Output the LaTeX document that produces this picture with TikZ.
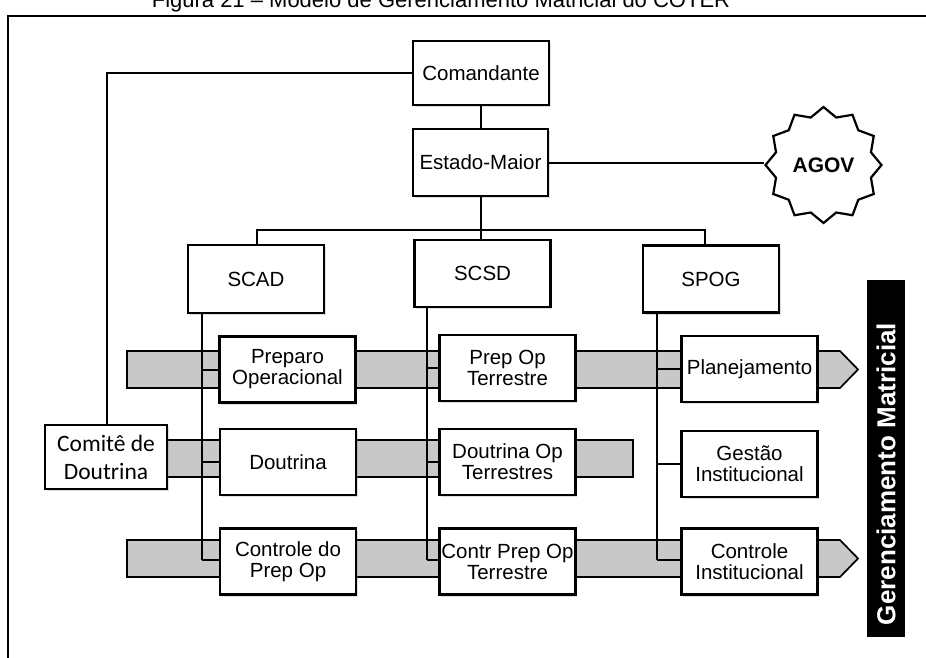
\documentclass[tikz,border=0pt]{standalone}
\usepackage{fontspec}
\setmainfont{Liberation Sans}
\newfontfamily\calibri{Carlito}
\usetikzlibrary{shapes.geometric,shadows}
\definecolor{bandgray}{HTML}{C8C8C8}

\begin{document}
\begin{tikzpicture}[x=1pt,y=-1pt,
  box/.style={draw, line width=2.9pt, fill=white, align=center,
    inner sep=0pt, font=\fontsize{20.5}{21}\selectfont,
    drop shadow={shadow xshift=1.5pt, shadow yshift=-2pt, opacity=0.25}},
  link/.style={line width=2pt},
  band/.style={draw, line width=1.7pt, fill=bandgray},
  colbox/.style={box, minimum width=136pt, minimum height=66pt}]

\useasboundingbox (0,0) rectangle (926,657);
\clip (0,0) rectangle (926,657);

% caption line and frame
\node[anchor=base, font=\fontsize{22}{26}\selectfont] (caption) at (441,7)
  {Figura 21 -- Modelo de Gerenciamento Matricial do COTER};
\draw[line width=2pt] (8,700) -- (8,16) -- (960,16);

% process bands (drawn first, boxes sit on top)
\draw[band] (127,351) -- (840,351) -- (858,369.5) -- (840,388) -- (127,388) -- cycle;
\draw[band] (633,477) -- (633,440) [rounded corners=6pt] -- (160,440) -- (160,477)
  [sharp corners] -- cycle;
\draw[band] (127,540) -- (840,540) -- (858,558.5) -- (840,577) -- (127,577) -- cycle;

% top of the hierarchy
\node[box, minimum width=136pt, minimum height=64pt] (cmd) at (481,73) {Comandante};
\node[box, minimum width=135pt, minimum height=67pt] (em) at (480.5,162.5) {Estado-Maior};
\node[star, star points=12, star point ratio=1.18, minimum size=116pt,
  draw, line width=2.2pt, fill=white, inner sep=0pt,
  font=\fontsize{21}{21}\selectfont\bfseries] (agov) at (823.5,165) {AGOV};

% sections
\node[box, minimum width=136pt, minimum height=68pt] (scad) at (256,279) {SCAD};
\node[box, minimum width=136pt, minimum height=67pt] (scsd) at (482.5,273.5) {SCSD};
\node[box, minimum width=136pt, minimum height=67pt] (spog) at (711,279) {SPOG};

% bus and links between the upper boxes
\coordinate (busL) at (257,230);
\coordinate (busR) at (705,230);
\draw[link] (cmd.south) -- (cmd.south |- em.north);
\draw[link] (em.east) -- (agov.west |- em.east);
\draw[link] (em.south) -- (em.south |- scsd.north);
\draw[link] (scad.north -| busL) |- (busR) -- (spog.north -| busR);
\draw[link] (cmd.west) -| (107,424);

% vertical spines of each section
\coordinate (s1) at (202,560);
\coordinate (s2) at (427,560);
\coordinate (s3) at (657,560);
\draw[link] (scad.south -| s1) -- (s1);
\draw[link] (scsd.south -| s2) -- (s2);
\draw[link] (spog.south -| s3) -- (s3);

% row 1
\node[colbox] (r1a) at (287.5,369.5) {Preparo\\Operacional};
\node[colbox] (r1b) at (507.5,368) {Prep Op\\Terrestre};
\node[colbox] (r1c) at (749.5,369) {Planejamento};
% row 2
\node[colbox] (r2a) at (288,462) {Doutrina};
\node[colbox] (r2b) at (507.5,462) {Doutrina Op\\Terrestres};
\node[colbox] (r2c) at (749.5,464) {Gestão\\Institucional};
% row 3
\node[colbox] (r3a) at (288,561.5) {Controle do\\Prep Op};
\node[colbox] (r3b) at (507.5,561.5) {Contr Prep Op\\Terrestre};
\node[colbox] (r3c) at (749.5,561.5) {Controle\\Institucional};

% branch links
\draw[link] (202,369.5) -- (r1a.west |- 0,369.5);
\draw[link] (427,368) -- (r1b.west |- 0,368);
\draw[link] (657,369) -- (r1c.west |- 0,369);
\draw[link] (202,462) -- (r2a.west |- 0,462);
\draw[link] (427,462) -- (r2b.west |- 0,462);
\draw[link] (657,464) -- (r2c.west |- 0,464);
\draw[link] (s1) -- (r3a.west |- s1);
\draw[link] (s2) -- (r3b.west |- s2);
\draw[link] (s3) -- (r3c.west |- s3);

% doctrine committee
\node[box, minimum width=122pt, minimum height=64pt,
  font=\calibri\fontsize{23.5}{28}\selectfont] (com) at (106,457) {Comitê de\\Doutrina};

% matrix management label
\node[fill=black, minimum width=38pt, minimum height=357pt, inner sep=0pt] (gm) at (886,458.5) {};
\node[rotate=90, text=white, font=\fontsize{26}{30}\selectfont\bfseries] (gmtext) at (886,474)
  {Gerenciamento Matricial};
\end{tikzpicture}
\end{document}
